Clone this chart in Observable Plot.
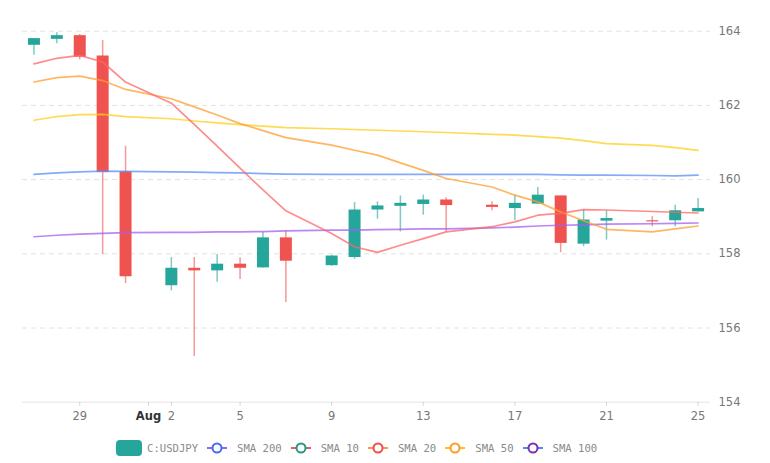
<!DOCTYPE html>
<html>
<head>
<meta charset="utf-8">
<script src="https://cdn.jsdelivr.net/npm/d3@7"></script>
<script src="https://cdn.jsdelivr.net/npm/@observablehq/plot@0.6"></script>
<style>
  html, body { margin: 0; padding: 0; background: #fff; }
  #chart svg { display: block; }
  .legend { display: flex; align-items: center; margin: 10px 0 0 116px; font-family: "DejaVu Sans Mono", monospace; font-size: 10.6px; color: #8a8a8a; }
  .legend .item { display: flex; align-items: center; margin-right: 7px; }
  .legend svg { display: block; }
  .legend .sw { margin-right: 5px; }
  .legend .mk { margin-right: 10px; margin-left: 2px; }
</style>
</head>
<body>
<div id="chart"></div>
<div class="legend" id="legend"></div>
<script>
// ---- data ----
const dates = ["2024-07-27","2024-07-28","2024-07-29","2024-07-30","2024-07-31","2024-08-02","2024-08-03","2024-08-04","2024-08-05","2024-08-06","2024-08-07","2024-08-09","2024-08-10","2024-08-11","2024-08-12","2024-08-13","2024-08-14","2024-08-16","2024-08-17","2024-08-18","2024-08-19","2024-08-20","2024-08-21","2024-08-23","2024-08-24","2024-08-25"];
const opens  = [163.62,163.78,163.88,163.33,160.21,157.14,157.61,157.54,157.72,157.62,158.43,157.68,157.90,159.18,159.28,159.33,159.45,159.31,159.22,159.34,159.56,158.26,158.88,158.89,158.89,159.13];
const highs  = [163.80,163.96,163.91,163.75,160.90,157.90,157.90,157.98,157.89,158.58,158.61,157.96,159.38,159.40,159.56,159.58,159.51,159.40,159.58,159.79,159.56,159.19,159.16,159.00,159.31,159.49];
const lows   = [163.35,163.66,163.23,157.98,157.20,157.00,155.23,157.23,157.31,157.62,156.69,157.66,157.85,158.93,158.59,159.04,158.59,159.16,158.89,159.34,158.03,158.19,158.37,158.73,158.73,159.13];
const closes = [163.80,163.88,163.30,160.19,157.38,157.61,157.54,157.72,157.61,158.43,157.80,157.94,159.18,159.29,159.36,159.45,159.30,159.25,159.36,159.58,158.28,158.91,158.95,158.86,159.16,159.22];

const sma10  = [163.12,163.27,163.35,163.17,162.63,162.06,161.49,160.90,160.31,159.72,159.16,158.55,158.19,158.04,158.23,158.41,158.59,158.73,158.86,159.04,159.09,159.19,159.18,159.14,159.12,159.10];
const sma20  = [162.63,162.75,162.79,162.67,162.43,162.18,161.96,161.74,161.51,161.32,161.13,160.93,160.79,160.66,160.45,160.25,160.03,159.80,159.58,159.40,159.13,158.89,158.66,158.59,158.67,158.75];
const sma50  = [161.60,161.70,161.75,161.76,161.70,161.64,161.58,161.53,161.48,161.44,161.40,161.37,161.35,161.33,161.31,161.29,161.27,161.22,161.20,161.16,161.12,161.05,160.97,160.92,160.86,160.79];
const sma100 = [158.46,158.50,158.53,158.55,158.57,158.58,158.58,158.59,158.59,158.60,158.62,158.64,158.64,158.65,158.66,158.67,158.67,158.70,158.72,158.75,158.77,158.78,158.80,158.81,158.82,158.83];
const sma200 = [160.14,160.18,160.21,160.23,160.22,160.21,160.20,160.19,160.18,160.16,160.15,160.14,160.14,160.14,160.14,160.14,160.14,160.14,160.14,160.14,160.13,160.12,160.12,160.11,160.10,160.12];

const xTicks = ["2024-07-29","2024-08-01","2024-08-02","2024-08-05","2024-08-09","2024-08-13","2024-08-17","2024-08-21","2024-08-25"];
const yTicks = [154,156,158,160,162,164];
const xDomain = ["2024-07-26T12:00Z","2024-08-25T13:00Z"];

const legendItems = [
  {label: "SMA 200", line: "#a35cf5", circle: "#3f6ff5"},
  {label: "SMA 10",  line: "#f25a5a", circle: "#1c9c86"},
  {label: "SMA 20",  line: "#ff9a36", circle: "#f24b4b"},
  {label: "SMA 50",  line: "#ffc21a", circle: "#ff9a1f"},
  {label: "SMA 100", line: "#4d8cf5", circle: "#7d2fb0"}
];

// ---- build ----
const parse = d3.utcParse("%Y-%m-%d");
const data = dates.map((d, i) => ({
  date: parse(d), open: opens[i], high: highs[i], low: lows[i], close: closes[i],
  sma10: sma10[i], sma20: sma20[i], sma50: sma50[i], sma100: sma100[i], sma200: sma200[i]
}));
const up = data.filter(d => d.close >= d.open);
const down = data.filter(d => d.close < d.open);
const GREEN = "#26a69a", RED = "#ef5350";

const fmtTick = d => d.getUTCDate() === 1 ? d3.utcFormat("%b")(d) : String(d.getUTCDate());

const lineOpts = (key, color) => Plot.line(data, {x: "date", y: key, stroke: color, strokeWidth: 1.7, strokeOpacity: 0.75});

const chart = Plot.plot({
  width: 770,
  height: 430,
  marginLeft: 22,
  marginRight: 60,
  marginTop: 30.7,
  marginBottom: 28.3,
  style: {fontFamily: "'DejaVu Sans', sans-serif", fontSize: "11px", color: "#777", background: "#fff"},
  x: {type: "utc", domain: xDomain.map(d => new Date(d))},
  y: {domain: [154, 164]},
  marks: [
    Plot.gridY(yTicks.filter(t => t > 154), {stroke: "#e2e2e2", strokeOpacity: 1, strokeDasharray: "5,4"}),
    Plot.ruleY([154], {stroke: "#e6e6e6"}),
    Plot.ruleX(up, {x: "date", y1: "low", y2: "high", stroke: GREEN, strokeOpacity: 0.6, strokeWidth: 1.5}),
    Plot.ruleX(down, {x: "date", y1: "low", y2: "high", stroke: RED, strokeOpacity: 0.6, strokeWidth: 1.5}),
    Plot.ruleX(up, {x: "date", y1: "open", y2: "close", stroke: GREEN, strokeWidth: 12}),
    Plot.ruleX(down, {x: "date", y1: "open", y2: "close", stroke: RED, strokeWidth: 12}),
    lineOpts("sma200", "#5b8ff5"),
    lineOpts("sma100", "#a45ef2"),
    lineOpts("sma50", "#ffcf1a"),
    lineOpts("sma20", "#ff9d2e"),
    lineOpts("sma10", "#ff6666"),
    Plot.axisY(yTicks, {anchor: "right", tickSize: 0, tickPadding: 8, fill: "#777", fontSize: 11.5}),
    Plot.axisX(xTicks.map(parse), {anchor: "bottom", tickSize: 4, tickPadding: 6, stroke: "#d4d4d4", fill: "#777", fontSize: 11.5, tickFormat: fmtTick})
  ]
});
document.getElementById("chart").appendChild(chart);
// bold month label
d3.select(chart).selectAll("text").filter(function() { return this.textContent === "Aug"; })
  .attr("font-weight", "bold").attr("fill", "#333");

// legend
const legend = document.getElementById("legend");
const first = document.createElement("div");
first.className = "item";
first.innerHTML = `<svg class="sw" width="26" height="16"><rect x="0" y="0" width="26" height="16" rx="4" fill="${GREEN}"/></svg><span>C:USDJPY</span>`;
legend.appendChild(first);
for (const it of legendItems) {
  const el = document.createElement("div");
  el.className = "item";
  el.innerHTML = `<svg class="mk" width="20" height="14"><line x1="0" x2="20" y1="7" y2="7" stroke="${it.line}" stroke-width="2"/><circle cx="10" cy="7" r="4.5" fill="#fff" stroke="${it.circle}" stroke-width="2"/></svg><span>${it.label}</span>`;
  legend.appendChild(el);
}
</script>
</body>
</html>
